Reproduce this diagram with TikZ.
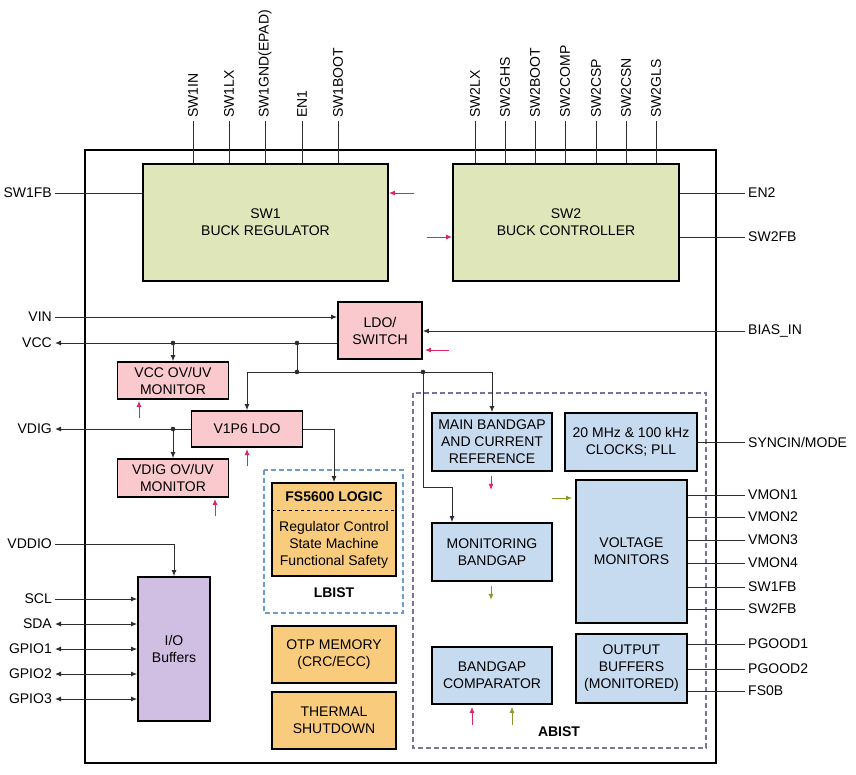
\documentclass[tikz,border=0pt]{standalone}
\usepackage{fontspec}
\setmainfont{Liberation Sans}
\usetikzlibrary{arrows.meta, calc, positioning}

\definecolor{swgreen}{RGB}{222,230,186}
\definecolor{ldopink}{RGB}{249,201,206}
\definecolor{bgblue}{RGB}{198,218,240}
\definecolor{logicorange}{RGB}{249,204,125}
\definecolor{iopurple}{RGB}{208,191,226}
\definecolor{wiregray}{RGB}{45,45,45}
\definecolor{tickred}{RGB}{224,36,94}
\definecolor{tickolive}{RGB}{138,154,42}
\definecolor{lbistblue}{RGB}{110,155,205}
\definecolor{abistpurple}{RGB}{128,112,160}

\begin{document}
\begin{tikzpicture}[x=1pt, y=-1pt,
    >={Latex[length=6pt,width=5pt]},
    every node/.style={font=\fontsize{14}{17}\selectfont, inner sep=3pt},
    lbl/.style={font=\fontsize{14}{17}\selectfont\bfseries},
    blk/.style={draw, line width=1.8pt, align=center},
    buck/.style={blk, fill=swgreen},
    pinkblk/.style={blk, fill=ldopink},
    blueblk/.style={blk, fill=bgblue},
    orangeblk/.style={blk, fill=logicorange},
    ioblk/.style={blk, fill=iopurple},
    wire/.style={line width=0.9pt, draw=wiregray},
    sig/.style={wire, ->},
    bisig/.style={wire, <->},
    tick/.style={line width=1pt, draw=#1, fill=#1},
    pinlbl/.style={rotate=90, anchor=west},
  ]
  \useasboundingbox (0,0) rectangle (856,774);

  \draw[line width=1.8pt] (85,150) rectangle (716,763);
  \draw[lbistblue, line width=1.2pt, dash pattern=on 5pt off 3pt] (264,470) rectangle (403,613);
  \draw[abistpurple, line width=1.2pt, dash pattern=on 5pt off 3pt] (413,393) rectangle (706,748);

  \node[buck, minimum width=245, minimum height=117] (sw1) at (265.5,222.5) {SW1\\BUCK REGULATOR};
  \node[buck, minimum width=226, minimum height=117] (sw2) at (566,222.5) {SW2\\BUCK CONTROLLER};
  \node[pinkblk, minimum width=84, minimum height=57] (ldo) at (380,330.5) {LDO/\\SWITCH};
  \node[pinkblk, minimum width=111, minimum height=37] (vccmon) at (173,380.5) {VCC OV/UV\\MONITOR};
  \node[pinkblk, minimum width=111, minimum height=36] (vldo) at (247,429) {V1P6 LDO};
  \node[pinkblk, minimum width=111, minimum height=38] (vdigmon) at (173,478) {VDIG OV/UV\\MONITOR};
  \node[orangeblk, minimum width=124, minimum height=93] (logic) at (334,529.5) {};
  \node[orangeblk, minimum width=124, minimum height=57] (otp) at (334,654.5) {OTP MEMORY\\(CRC/ECC)};
  \node[orangeblk, minimum width=124, minimum height=57] (thermal) at (334,720.5) {THERMAL\\SHUTDOWN};
  \node[ioblk, minimum width=72, minimum height=144] (iobuf) at (174,649) {I/O\\Buffers};
  \node[blueblk, minimum width=120, minimum height=58] (mainbg) at (492,442) {MAIN BANDGAP\\AND CURRENT\\REFERENCE};
  \node[blueblk, minimum width=132, minimum height=58] (clocks) at (631,442) {20 MHz \& 100 kHz\\CLOCKS; PLL};
  \node[blueblk, minimum width=120, minimum height=58] (monbg) at (492,552) {MONITORING\\BANDGAP};
  \node[blueblk, minimum width=111, minimum height=143] (vmons) at (631.5,551.5) {VOLTAGE\\MONITORS};
  \node[blueblk, minimum width=111, minimum height=69] (outbuf) at (631.5,668.5) {OUTPUT\\BUFFERS\\(MONITORED)};
  \node[blueblk, minimum width=120, minimum height=57] (bgcomp) at (492,675.5) {BANDGAP\\COMPARATOR};

  \draw[line width=1.2pt, dashed] ([yshift=-28pt]logic.north west) -- ([yshift=-28pt]logic.north east);
  \node[lbl] (logictitle) at (334,497) {FS5600 LOGIC};
  \node[align=center] (logictext) at (334,545) {Regulator Control\\State Machine\\Functional Safety};
  \node[lbl] (lbist) at (334,593) {LBIST};
  \node[lbl] (abist) at (559,732) {ABIST};

  \foreach \x/\pin in {193/SW1IN, 229/SW1LX, 265/{SW1GND(EPAD)}, 302/EN1, 338/SW1BOOT}{
    \node[pinlbl] (p\x) at (\x,121) {\pin};
    \draw[wire] (p\x.west) -- (p\x.west |- sw1.north);
  }
  \foreach \x/\pin in {475/SW2LX, 505/SW2GHS, 535/SW2BOOT, 565/SW2COMP, 596/SW2CSP, 626/SW2CSN, 656/SW2GLS}{
    \node[pinlbl] (p\x) at (\x,121) {\pin};
    \draw[wire] (p\x.west) -- (p\x.west |- sw2.north);
  }

  \node[anchor=east] (sw1fb) at (55,193) {SW1FB};
  \node[anchor=east] (vin) at (55,317) {VIN};
  \node[anchor=east] (vcc) at (55,343) {VCC};
  \node[anchor=east] (vdig) at (55,429) {VDIG};
  \node[anchor=east] (vddio) at (55,544) {VDDIO};
  \node[anchor=east] (scl) at (55,599) {SCL};
  \node[anchor=east] (sda) at (55,624) {SDA};
  \node[anchor=east] (gpio1) at (55,649) {GPIO1};
  \node[anchor=east] (gpio2) at (55,674) {GPIO2};
  \node[anchor=east] (gpio3) at (55,699) {GPIO3};

  \node[anchor=west] (en2) at (745,193) {EN2};
  \node[anchor=west] (sw2fb) at (745,237) {SW2FB};
  \node[anchor=west] (bias) at (745,331) {BIAS\_IN};
  \node[anchor=west] (sync) at (745,442) {SYNCIN/MODE};

  \draw[wire] (sw1fb.east) -- (sw1.west |- sw1fb);
  \draw[wire] (sw2.east |- en2) -- (en2.west);
  \draw[wire] (sw2.east |- sw2fb) -- (sw2fb.west);
  \draw[sig] (vin.east) -- (ldo.west |- vin);
  \draw[sig] (ldo.west |- vcc) -- (vcc.east);
  \draw[sig] (bias.west) -- (ldo.east |- bias);
  \draw[wire] (clocks.east) -- (sync.west);

  \coordinate (j1) at (173,343);
  \coordinate (j2) at (297,343);
  \coordinate (j3) at (297,372);
  \coordinate (j4) at (423,372);
  \coordinate (j5) at (173,429);
  \coordinate (mbend) at (452,487);

  \draw[sig] (j1) -- (j1 |- vccmon.north);
  \draw[wire] (j2) -- (j3);
  \draw[sig] (j3) -| (vldo.north);
  \draw[sig] (j3) -| (mainbg.north);
  \draw[sig] (j4) |- (mbend) -- (mbend |- monbg.north);
  \draw[sig] (vldo.west) -- (vdig.east);
  \draw[sig] (j5) -- (j5 |- vdigmon.north);
  \draw[sig] (vldo.east) -| (logic.north);
  \foreach \j in {j1,j2,j3,j4,j5}
    \fill[wiregray] (\j) circle (2.3pt);

  \draw[sig] (vddio.east) -| (iobuf.north);
  \draw[sig] (scl.east) -- (iobuf.west |- scl);
  \foreach \p in {sda,gpio1,gpio2,gpio3}
    \draw[bisig] (\p.east) -- (iobuf.west |- \p);

  \foreach \y/\pin in {495/VMON1, 517/VMON2, 540/VMON3, 563/VMON4, 587/SW1FB, 609/SW2FB}{
    \node[anchor=west] (r\y) at (745,\y) {\pin};
    \draw[wire] (vmons.east |- r\y) -- (r\y.west);
  }
  \foreach \y/\pin in {644/PGOOD1, 669/PGOOD2, 691/FS0B}{
    \node[anchor=west] (r\y) at (745,\y) {\pin};
    \draw[wire] (outbuf.east |- r\y) -- (r\y.west);
  }

  \draw[tick=tickred, <-] (sw1.east |- sw1fb) -- ++(25,0);
  \draw[tick=tickred, <-] (sw2.west |- sw2fb) -- ++(-25,0);
  \draw[tick=tickred, <-] ([yshift=-19.5pt, xshift=2pt]ldo.east) -- ++(24,0);
  \draw[tick=tickred, <-] ([xshift=-34pt, yshift=-1pt]vccmon.south) -- ++(0,17);
  \draw[tick=tickred, <-] ([yshift=-1pt]vldo.south) -- ++(0,17);
  \draw[tick=tickred, <-] ([xshift=42pt, yshift=-1pt]vdigmon.south) -- ++(0,17);
  \draw[tick=tickred, ->] ([xshift=-1pt, yshift=-4pt]mainbg.south) -- ++(0,14);
  \draw[tick=tickolive, ->] ([xshift=-1pt, yshift=-4pt]monbg.south) -- ++(0,14);
  \draw[tick=tickolive, <-] ([yshift=53.5pt, xshift=-3pt]vmons.west) -- ++(-20,0);
  \draw[tick=tickred, <-] ([xshift=-20pt, yshift=-2pt]bgcomp.south) -- ++(0,18);
  \draw[tick=tickolive, <-] ([xshift=20pt, yshift=-2pt]bgcomp.south) -- ++(0,18);
\end{tikzpicture}
\end{document}
